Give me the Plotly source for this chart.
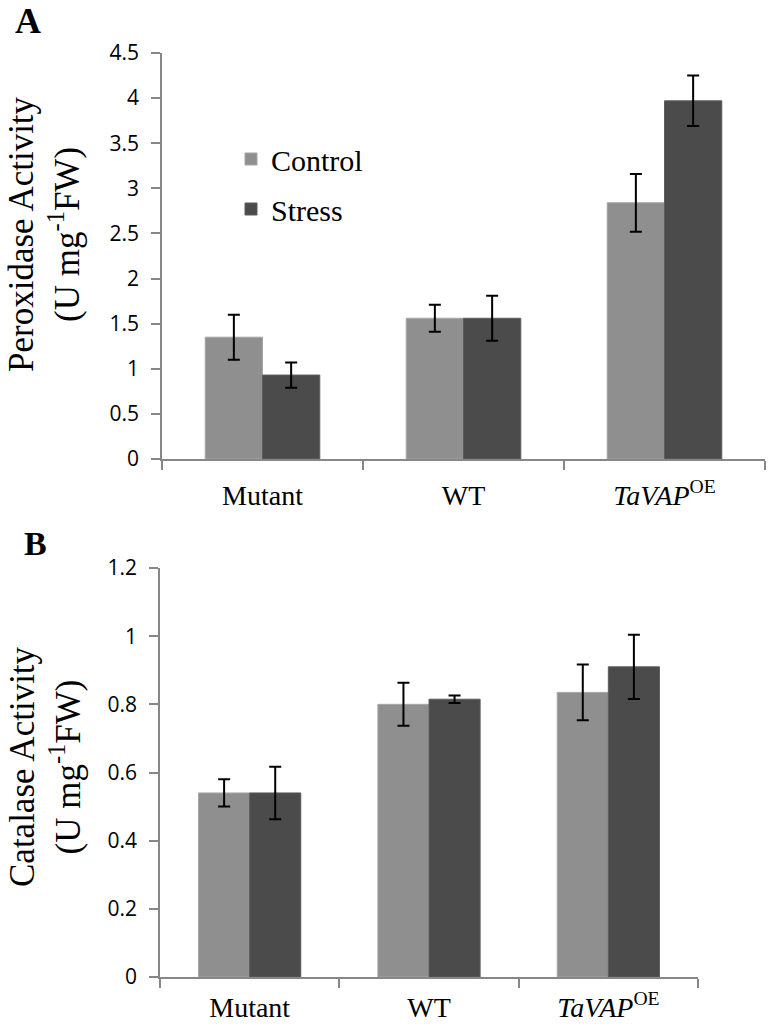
import plotly.graph_objects as go

categories = ["Mutant", "WT", "<i>TaVAP</i><sup>OE</sup>"]

# Panel A: Peroxidase activity
perox_control = [1.35, 1.56, 2.84]
perox_control_err = [0.25, 0.15, 0.32]
perox_stress = [0.93, 1.56, 3.97]
perox_stress_err = [0.14, 0.25, 0.28]

# Panel B: Catalase activity
cat_control = [0.54, 0.80, 0.835]
cat_control_err = [0.04, 0.063, 0.082]
cat_stress = [0.54, 0.815, 0.91]
cat_stress_err = [0.077, 0.011, 0.094]

perox_ticks = [0, 0.5, 1, 1.5, 2, 2.5, 3, 3.5, 4, 4.5]
perox_ticklabels = ["0", "0.5", "1", "1.5", "2", "2.5", "3", "3.5", "4", "4.5"]
cat_ticks = [0, 0.2, 0.4, 0.6, 0.8, 1.0, 1.2]
cat_ticklabels = ["0", "0.2", "0.4", "0.6", "0.8", "1", "1.2"]

perox_title = "Peroxidase Activity<br>(U mg<sup>-1</sup>FW)"
cat_title = "Catalase Activity<br>(U mg<sup>-1</sup>FW)"

C_CTRL = "#8f8f8f"
C_STRESS = "#4b4b4b"
AX = "#878787"
SERIF = "Liberation Serif, Times New Roman, serif"
SANS = "Open Sans, sans-serif"

W, H = 773, 1030


def px(X):
    return X / W


def py(Y):
    return 1 - Y / H


fig = go.Figure()


def err(vals):
    return dict(type="data", array=vals, visible=True, color="black", thickness=2, width=6)


fig.add_trace(go.Bar(x=categories, y=perox_control, name="Control",
                     marker=dict(color=C_CTRL, line=dict(color="#a6a6a6", width=1)),
                     error_y=err(perox_control_err), xaxis="x", yaxis="y", legendgroup="c"))
fig.add_trace(go.Bar(x=categories, y=perox_stress, name="Stress",
                     marker=dict(color=C_STRESS, line=dict(color="#5c5c5c", width=1)),
                     error_y=err(perox_stress_err), xaxis="x", yaxis="y", legendgroup="s"))
fig.add_trace(go.Bar(x=categories, y=cat_control, name="Control",
                     marker=dict(color=C_CTRL, line=dict(color="#a6a6a6", width=1)),
                     error_y=err(cat_control_err), xaxis="x2", yaxis="y2", showlegend=False, legendgroup="c"))
fig.add_trace(go.Bar(x=categories, y=cat_stress, name="Stress",
                     marker=dict(color=C_STRESS, line=dict(color="#5c5c5c", width=1)),
                     error_y=err(cat_stress_err), xaxis="x2", yaxis="y2", showlegend=False, legendgroup="s"))

xcommon = dict(showline=True, linecolor=AX, linewidth=2, ticks="outside", tickson="boundaries",
               ticklen=9, tickcolor=AX, tickwidth=1.5, showgrid=False, zeroline=False, automargin=False,
               tickfont=dict(family=SERIF, size=28, color="black"))
ycommon = dict(showline=True, linecolor=AX, linewidth=1.5, ticks="outside", ticklen=9, tickcolor=AX,
               tickwidth=1.5, showgrid=False, zeroline=False, automargin=False,
               tickfont=dict(family=SANS, size=21, color="black"), ticklabelstandoff=8)

fig.update_layout(
    width=W, height=H,
    margin=dict(l=0, r=0, t=0, b=0, autoexpand=False),
    paper_bgcolor="white", plot_bgcolor="white",
    barmode="group", bargap=0.43, bargroupgap=0,
    showlegend=True,
    legend=dict(x=px(231), y=py(133), xanchor="left", yanchor="top",
                font=dict(family=SERIF, size=30, color="black"),
                tracegroupgap=8, bgcolor="rgba(0,0,0,0)"),
    xaxis=dict(domain=[px(162), px(765)], anchor="y", ticklabelstandoff=10, **xcommon),
    yaxis=dict(domain=[py(459), py(53)], anchor="x", range=[0, 4.5], tickvals=perox_ticks,
               ticktext=perox_ticklabels, **ycommon),
    xaxis2=dict(domain=[px(160), px(698)], anchor="y2", ticklabelstandoff=4, **xcommon),
    yaxis2=dict(domain=[py(977), py(568)], anchor="x2", range=[0, 1.2], tickvals=cat_ticks,
                ticktext=cat_ticklabels, **ycommon),
    annotations=[
        dict(text=perox_title, x=px(45), y=py(234), xref="paper", yref="paper", xanchor="center",
             yanchor="middle", textangle=-90, showarrow=False,
             font=dict(family=SERIF, size=35, color="black")),
        dict(text=cat_title, x=px(45), y=py(767), xref="paper", yref="paper", xanchor="center",
             yanchor="middle", textangle=-90, showarrow=False,
             font=dict(family=SERIF, size=35, color="black")),
        dict(text="<b>A</b>", x=px(14), y=1, xref="paper", yref="paper", xanchor="left", yanchor="top",
             showarrow=False, borderpad=0, font=dict(family=SERIF, size=36, color="black")),
        dict(text="<b>B</b>", x=px(22), y=py(523), xref="paper", yref="paper", xanchor="left", yanchor="top",
             showarrow=False, font=dict(family=SERIF, size=34, color="black")),
    ],
)

# remove the browser's default 8px body margin so the figure fills the window
fig.write_html("out.html", config={"displayModeBar": False},
               post_script="document.body.style.margin='0';")
